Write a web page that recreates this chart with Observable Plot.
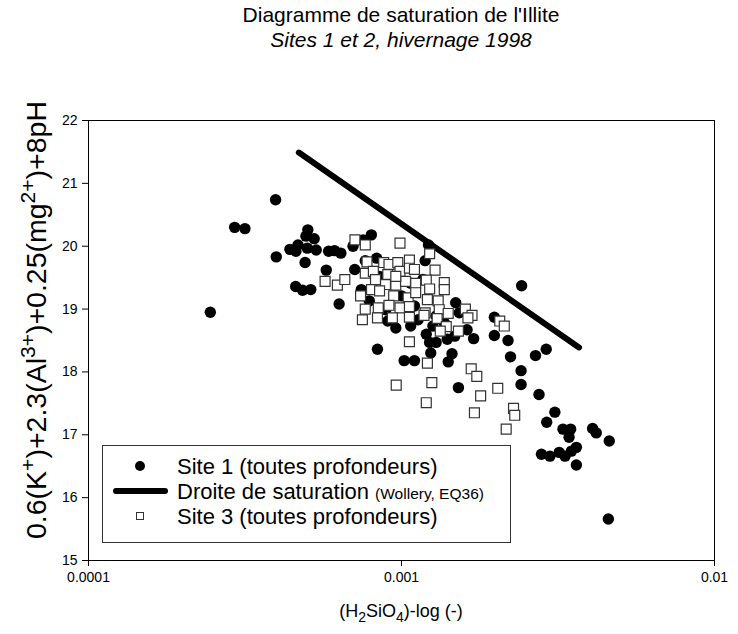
<!DOCTYPE html>
<html>
<head>
<meta charset="utf-8">
<script src="https://cdn.jsdelivr.net/npm/d3@7"></script>
<script src="https://cdn.jsdelivr.net/npm/@observablehq/plot@0.6"></script>
<style>
  html, body { margin: 0; padding: 0; background: #fff; }
  #chart { width: 738px; height: 634px; }
</style>
</head>
<body>
<div id="chart"></div>
<script>
// ---- Data ----
const titleText = "Diagramme de saturation de l'Illite";
const subtitleText = "Sites 1 et 2, hivernage 1998";

const xTicks = [0.0001, 0.001, 0.01];
const xTickLabels = ["0.0001", "0.001", "0.01"];
const yTicks = [15, 16, 17, 18, 19, 20, 21, 22];
const yTickLabels = ["15", "16", "17", "18", "19", "20", "21", "22"];

const legendLabels = ["Site 1 (toutes profondeurs)", "Droite de saturation", "(Wollery, EQ36)", "Site 3 (toutes profondeurs)"];

// Site 1 (filled circles)
const site1X = [0.000396,0.000293,0.000316,0.000245,0.000398,0.000502,0.000495,0.000526,0.000467,0.000440,
  0.000460,0.000500,0.000534,0.000492,0.000585,0.000611,0.000640,0.000575,0.000700,0.000755,
  0.000801,0.000709,0.000459,0.000483,0.000513,0.000632,0.000838,0.00102,0.00110,0.00122,
  0.00119,0.00242,0.00152,0.00124,0.00141,0.00145,0.00170,0.00198,0.00198,0.00219,
  0.00223,0.00241,0.00241,0.00268,0.00290,0.00275,0.00309,0.00291,0.00328,0.00347,
  0.00343,0.00408,0.00419,0.00461,0.00280,0.00298,0.00319,0.00333,0.00349,0.00362,
  0.00362,0.00458,
  0.000766,0.000833,0.000744,0.000789,0.000904,0.000959,0.00107,0.00113,0.00110,0.00120,
  0.00123,0.00129,0.00126,0.00140,0.00149,0.00153,0.00148,0.00162,0.000944,0.00100,
  0.00107,0.00117,0.000850,0.00129,0.00137,0.000891];
const site1Y = [20.74,20.30,20.28,18.95,19.83,20.26,20.16,20.12,20.02,19.95,
  19.92,19.97,19.94,19.74,19.92,19.93,19.89,19.62,20.00,20.10,
  20.18,19.63,19.36,19.30,19.31,19.08,18.36,18.18,18.18,20.02,
  19.77,19.37,17.75,18.30,18.16,18.29,18.53,18.87,18.58,18.50,
  18.24,18.02,17.80,18.26,18.36,17.64,17.36,17.20,17.09,17.09,
  16.96,17.10,17.03,16.90,16.69,16.66,16.72,16.66,16.74,16.80,
  16.52,15.66,
  19.77,19.81,19.31,19.13,18.81,18.70,18.73,18.83,19.05,18.60,
  18.47,18.47,18.73,18.52,19.10,18.94,18.57,18.67,19.41,19.21,
  19.41,19.47,19.52,18.89,18.78,18.99];

// Site 3 (open squares)
const site3X = [0.000710,0.000766,0.000989,0.00123,0.000570,0.000624,0.000659,0.000776,0.000766,0.000813,
  0.000877,0.000912,0.000973,0.00106,0.000989,0.00106,0.00128,0.000904,0.000826,0.000889,
  0.000959,0.00103,0.00111,0.00120,0.00137,0.000802,0.000851,0.000740,0.000944,0.00105,
  0.00111,0.00123,0.00137,0.00121,0.00131,0.000766,0.000843,0.000912,0.000989,0.00106,
  0.00119,0.00132,0.00141,0.000750,0.000838,0.000935,0.00106,0.00118,0.00130,0.00139,
  0.00152,0.00133,0.00160,0.00168,0.00163,0.00106,0.00206,0.00213,0.00121,0.00167,
  0.00174,0.000962,0.00125,0.00120,0.00179,0.00203,0.00171,0.00228,0.00230,0.00216,
  0.00110,0.000959];
const site3Y = [20.10,20.02,20.05,19.88,19.44,19.38,19.47,19.75,19.57,19.60,
  19.74,19.71,19.74,19.78,19.60,19.65,19.62,19.55,19.47,19.39,
  19.38,19.44,19.41,19.46,19.42,19.31,19.29,19.21,19.21,19.18,
  19.26,19.32,19.31,19.15,19.13,19.00,19.02,19.06,19.02,19.04,
  18.94,18.99,18.93,18.83,18.86,18.86,18.87,18.90,18.85,18.72,
  18.65,18.65,19.00,18.90,18.86,18.48,18.81,18.73,18.14,18.05,
  17.93,17.79,17.83,17.51,17.62,17.74,17.35,17.42,17.31,17.09,
  19.63,19.52];

// Saturation line (Wollery, EQ36)
const satX = [0.00047, 0.00369];
const satY = [21.49, 18.39];

// ---- Build tables ----
const site1 = site1X.map((x, i) => ({x, y: site1Y[i]}));
const site3 = site3X.map((x, i) => ({x, y: site3Y[i]}));
const sat = satX.map((x, i) => ({x, y: satY[i]}));

const FONT = "'Liberation Sans', Arial, Helvetica, sans-serif";
const fmtX = d => {
  const i = xTicks.findIndex(t => Math.abs(Math.log10(t) - Math.log10(d)) < 1e-6);
  return i >= 0 ? xTickLabels[i] : "";
};
const fmtY = d => {
  const i = yTicks.indexOf(d);
  return i >= 0 ? yTickLabels[i] : "";
};

const plot = Plot.plot({
  width: 738,
  height: 634,
  marginTop: 120,
  marginBottom: 74,
  marginLeft: 88,
  marginRight: 24,
  style: {fontFamily: FONT, fontSize: "14px", color: "#000", background: "#fff", overflow: "visible"},
  x: {type: "log", domain: [0.0001, 0.01]},
  y: {domain: [15, 22]},
  marks: [
    Plot.frame({stroke: "#000", strokeWidth: 1}),
    Plot.axisY({ticks: yTicks, tickFormat: fmtY, tickSize: 6, tickPadding: 5, label: null, fontSize: 14}),
    Plot.axisX({ticks: xTicks, tickFormat: fmtX, tickSize: 6, tickPadding: 6, label: null, fontSize: 14}),
    Plot.line(sat, {x: "x", y: "y", stroke: "#000", strokeWidth: 6, strokeLinecap: "round"}),
    Plot.dot(site1, {x: "x", y: "y", r: 5.7, fill: "#000", stroke: "none"}),
    Plot.dot(site3, {x: "x", y: "y", symbol: "square", r: 5.6, fill: "#fff", stroke: "#333", strokeWidth: 1.2})
  ]
});

document.getElementById("chart").appendChild(plot);

// ---- Titles, axis labels and legend (real text) ----
const svg = d3.select(plot);

function richText(parent, parts, size, smallSize, shift) {
  const t = parent.append("text").attr("font-family", FONT).attr("font-size", size).attr("fill", "#000");
  let cur = 0;
  parts.forEach(p => {
    const target = p.v || 0; // -1 sub, +1 sup, 0 normal
    const dy = -(target - cur) * shift;
    const ts = t.append("tspan").text(p.t).attr("font-size", target === 0 ? size : smallSize);
    if (dy !== 0) ts.attr("dy", dy);
    cur = target;
  });
  return t;
}

svg.append("text").attr("x", 401).attr("y", 22).attr("text-anchor", "middle")
  .attr("font-family", FONT).attr("font-size", 21).attr("fill", "#000").text(titleText);
svg.append("text").attr("x", 401).attr("y", 47).attr("text-anchor", "middle")
  .attr("font-family", FONT).attr("font-size", 21).attr("font-style", "italic").attr("fill", "#000").text(subtitleText);

// Y label
const yl = richText(svg, [
  {t: "0.6(K"}, {t: "+", v: 1}, {t: ")+2.3(Al"}, {t: "3+", v: 1},
  {t: ")+0.25(mg"}, {t: "2+", v: 1}, {t: ")+8pH"}
], 28.5, 21, 11.5);
yl.attr("text-anchor", "middle").attr("transform", "translate(46,320) rotate(-90)");

// X label
const xl = richText(svg, [
  {t: "(H"}, {t: "2", v: -1}, {t: "SiO"}, {t: "4", v: -1}, {t: ")-log (-)"}
], 18, 14, 5);
xl.attr("text-anchor", "middle").attr("transform", "translate(401,617)");

// Legend
const lg = svg.append("g").attr("text-anchor", "start");
lg.append("rect").attr("x", 102.5).attr("y", 445.5).attr("width", 408).attr("height", 97)
  .attr("fill", "#fff").attr("stroke", "#333").attr("stroke-width", 1);
lg.append("circle").attr("cx", 140).attr("cy", 466).attr("r", 5).attr("fill", "#000");
lg.append("line").attr("x1", 116).attr("x2", 165).attr("y1", 491).attr("y2", 491)
  .attr("stroke", "#000").attr("stroke-width", 6).attr("stroke-linecap", "round");
lg.append("rect").attr("x", 136.5).attr("y", 512.5).attr("width", 7).attr("height", 7)
  .attr("fill", "#fff").attr("stroke", "#333").attr("stroke-width", 1);
const lt = (y) => lg.append("text").attr("x", 177).attr("y", y).attr("text-anchor", "start")
  .attr("font-family", FONT).attr("font-size", 22).attr("fill", "#000");
lt(473.5).text(legendLabels[0]);
const l2 = lt(498.5);
l2.append("tspan").text(legendLabels[1] + " ");
l2.append("tspan").attr("font-size", 15.5).text(legendLabels[2]);
lt(523.5).text(legendLabels[3]);
</script>
</body>
</html>
